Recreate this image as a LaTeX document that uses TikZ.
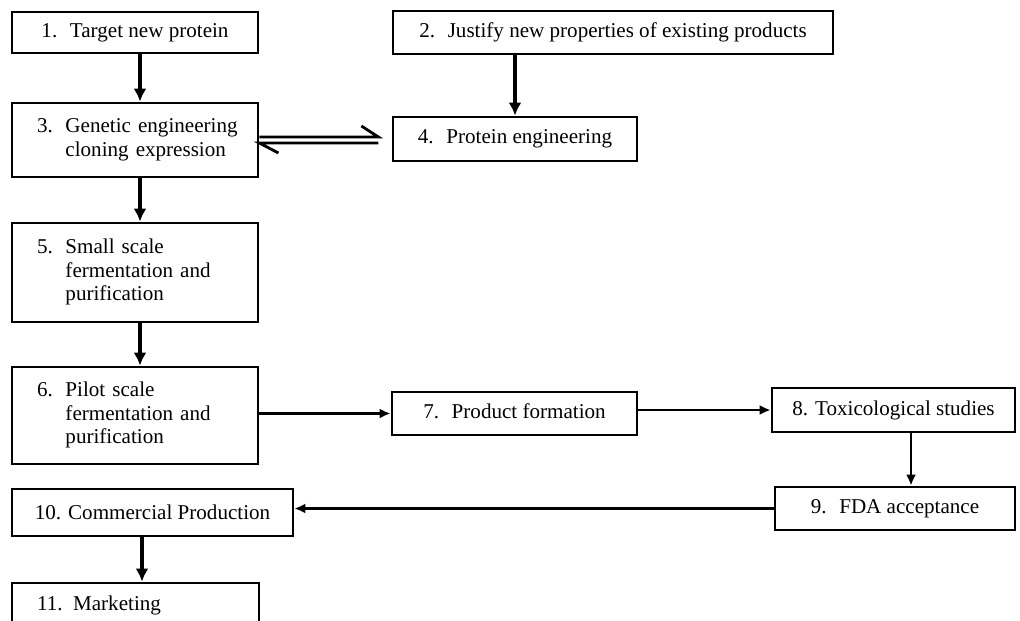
\documentclass[tikz,border=0pt]{standalone}
\usepackage{fontspec}
\setmainfont{Liberation Serif}
\usetikzlibrary{arrows.meta}

\newcommand{\stepitem}[2]{\begin{tabular}{@{}l@{\hspace{0.6em}}l@{}}#1&#2\end{tabular}}

\tikzset{
  box/.style={draw, line width=1.6pt, inner sep=0pt, font=\fontsize{12}{13.5}\selectfont},
  leftbox/.style={text width=#1, align=left, inner xsep=0.5cm},
  flow/.style={-{Latex[length=2.6mm,width=2.6mm]}, line width=2pt},
  thinflow/.style={-{Latex[length=2.2mm,width=2mm]}, line width=1.5pt},
  eqline/.style={line width=1.6pt},
}

\begin{document}
\begin{tikzpicture}[x=0.02cm, y=-0.02cm]
    \clip (0,0) rectangle (1020,621);
    \node[box, minimum width=4.92cm, minimum height=0.82cm] (n1) at (135,32.5) {\stepitem{1.}{Target new protein}};
    \node[box, minimum width=8.8cm, minimum height=0.86cm] (n2) at (613,32.5) {\stepitem{2.}{Justify new properties of existing products}};
    \node[box, leftbox=3.92cm, minimum height=1.48cm] (n3) at (135,140) {\stepitem{3.}{Genetic engineering\\&cloning expression}};
    \node[box, minimum width=4.88cm, minimum height=0.88cm] (n4) at (515,139) {\stepitem{4.}{Protein engineering}};
    \node[box, leftbox=3.92cm, minimum height=1.98cm] (n5) at (135,272.5) {\stepitem{5.}{Small scale\\&fermentation and\\&purification}};
    \node[box, leftbox=3.92cm, minimum height=1.94cm] (n6) at (135,415.5) {\stepitem{6.}{Pilot scale\\&fermentation and\\&purification}};
    \node[box, minimum width=4.9cm, minimum height=0.86cm] (n7) at (514.5,413.5) {\stepitem{7.}{Product formation}};
    \node[box, minimum width=4.86cm, minimum height=0.88cm] (n8) at (893.5,410) {8. Toxicological studies};
    \node[box, minimum width=4.8cm, minimum height=0.86cm] (n9) at (895,508.5) {\stepitem{9.}{FDA acceptance}};
    \node[box, minimum width=5.62cm, minimum height=0.94cm] (n10) at (152.5,512.5) {10. Commercial Production};
    \node[box, leftbox=3.94cm, minimum height=0.88cm] (n11) at (135.5,605) {11. Marketing};

    % vertical flow on the left
    \coordinate (m3) at ([xshift=0.1cm]n3.north);
    \coordinate (m5) at ([xshift=0.1cm]n5.north);
    \coordinate (m6) at ([xshift=0.1cm]n6.north);
    \coordinate (m11) at ([xshift=0.13cm]n11.north);
    \draw[flow] (m3 |- n1.south) -- (m3);
    \draw[flow] (m5 |- n3.south) -- (m5);
    \draw[flow] (m6 |- n5.south) -- (m6);
    \draw[flow] (n4.north |- n2.south) -- (n4.north);
    \draw[flow] (m11 |- n10.south) -- (m11);

    % equilibrium between 3 and 4
    \draw[eqline] ([yshift=0.06cm]n3.east) -- ++(119,0) -- ++(-17,-11);
    \draw[eqline] ([yshift=-0.06cm]n3.east) ++(19,10) -- ++(-19,-10) -- ++(119,0);

    % production line
    \draw[thinflow] (n6.east |- n7.west) -- (n7.west);
    \draw[thinflow] (n7.east |- n8.west) -- (n8.west);
    \coordinate (m9) at ([xshift=0.32cm]n9.north);
    \draw[thinflow] (m9 |- n8.south) -- (m9);
    \draw[thinflow] (n9.west) -- (n9.west -| n10.east);
\end{tikzpicture}
\end{document}
